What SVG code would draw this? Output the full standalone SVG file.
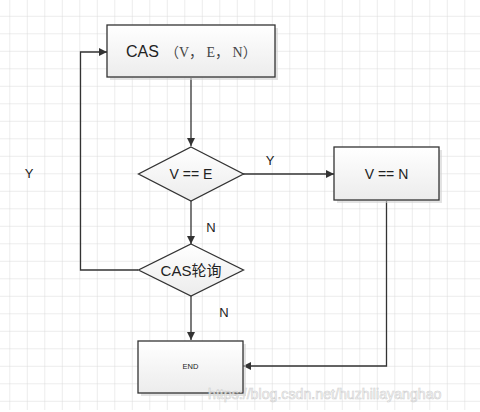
<svg xmlns="http://www.w3.org/2000/svg" width="480" height="412" viewBox="0 0 480 412">
  <defs>
    <pattern id="grid" x="9.3" y="15.8" width="17.5" height="17.5" patternUnits="userSpaceOnUse">
      <path d="M0 0H17.5M0 0V17.5" fill="none" stroke="#d9d9d9" stroke-width="1"/>
    </pattern>
    <linearGradient id="fillg" x1="0" y1="0" x2="0" y2="1">
      <stop offset="0" stop-color="#ffffff"/>
      <stop offset="1" stop-color="#ececec"/>
    </linearGradient>
    <marker id="arr" viewBox="0 0 10 10" refX="10" refY="5" markerWidth="8" markerHeight="8" markerUnits="userSpaceOnUse" orient="auto">
      <path d="M0 0L10 5L0 10z" fill="#333"/>
    </marker>
  </defs>
  <style>
    .shape { fill: url(#fillg); stroke: #333; stroke-width: 1.3; }
    .shadow { fill: #d0d0d0; opacity: 0.6; }
    .conn { fill: none; stroke: #333; stroke-width: 1.3; }
    .lbl { font-family: "Liberation Sans", "Noto Sans CJK SC", sans-serif; fill: #222; }
  </style>
  <rect x="0" y="0" width="480" height="412" fill="#fff"/>
  <rect x="0" y="0" width="480" height="410" fill="url(#grid)"/>

  <g id="connectors">
    <path class="conn" d="M191 78V146" marker-end="url(#arr)"/>
    <path class="conn" d="M243 174H334" marker-end="url(#arr)"/>
    <path class="conn" d="M191 201V244" marker-end="url(#arr)"/>
    <path class="conn" d="M138 270H80.5V52H107" marker-end="url(#arr)"/>
    <path class="conn" d="M191 296V340" marker-end="url(#arr)"/>
    <path class="conn" d="M386.5 201V366H243" marker-end="url(#arr)"/>
    <text class="lbl" x="270" y="165" font-size="13" text-anchor="middle">Y</text>
    <text class="lbl" x="29" y="178" font-size="13" text-anchor="middle">Y</text>
    <text class="lbl" x="211" y="232" font-size="13" text-anchor="middle">N</text>
    <text class="lbl" x="224" y="317" font-size="13" text-anchor="middle">N</text>
  </g>

  <g id="node-cas">
    <rect class="shadow" x="110" y="28" width="168" height="52"/>
    <rect class="shape" x="107" y="25" width="168" height="52"/>
    <text class="lbl" x="126" y="57" font-size="16">CAS<tspan font-family="'Liberation Serif','Noto Sans CJK SC',serif" font-size="14" fill="#444" dx="6">（V， E， N）</tspan></text>
  </g>

  <g id="node-ve">
    <polygon class="shape" points="191,147 243.5,174 191,201 138.5,174"/>
    <text class="lbl" x="191" y="179" font-size="14" text-anchor="middle">V == E</text>
  </g>

  <g id="node-vn">
    <rect class="shadow" x="337" y="150" width="105" height="53"/>
    <rect class="shape" x="334" y="147" width="105" height="53"/>
    <text class="lbl" x="386.5" y="179" font-size="14" text-anchor="middle">V == N</text>
  </g>

  <g id="node-poll">
    <polygon class="shape" points="191,244 243.5,270 191,296 138.5,270"/>
    <text class="lbl" x="191" y="276" font-size="15" text-anchor="middle">CAS轮询</text>
  </g>

  <g id="node-end">
    <rect class="shadow" x="141" y="344" width="105" height="52"/>
    <rect class="shape" x="138" y="341" width="105" height="52"/>
    <text class="lbl" x="190.5" y="369" font-size="7.5" text-anchor="middle">END</text>
  </g>

  <text x="208" y="399" font-family="'Liberation Sans', sans-serif" font-size="14.2" fill="#ffffff" stroke="#c8c8c8" stroke-width="0.6" opacity="0.85">https://blog.csdn.net/huzhiliayanghao</text>
</svg>
